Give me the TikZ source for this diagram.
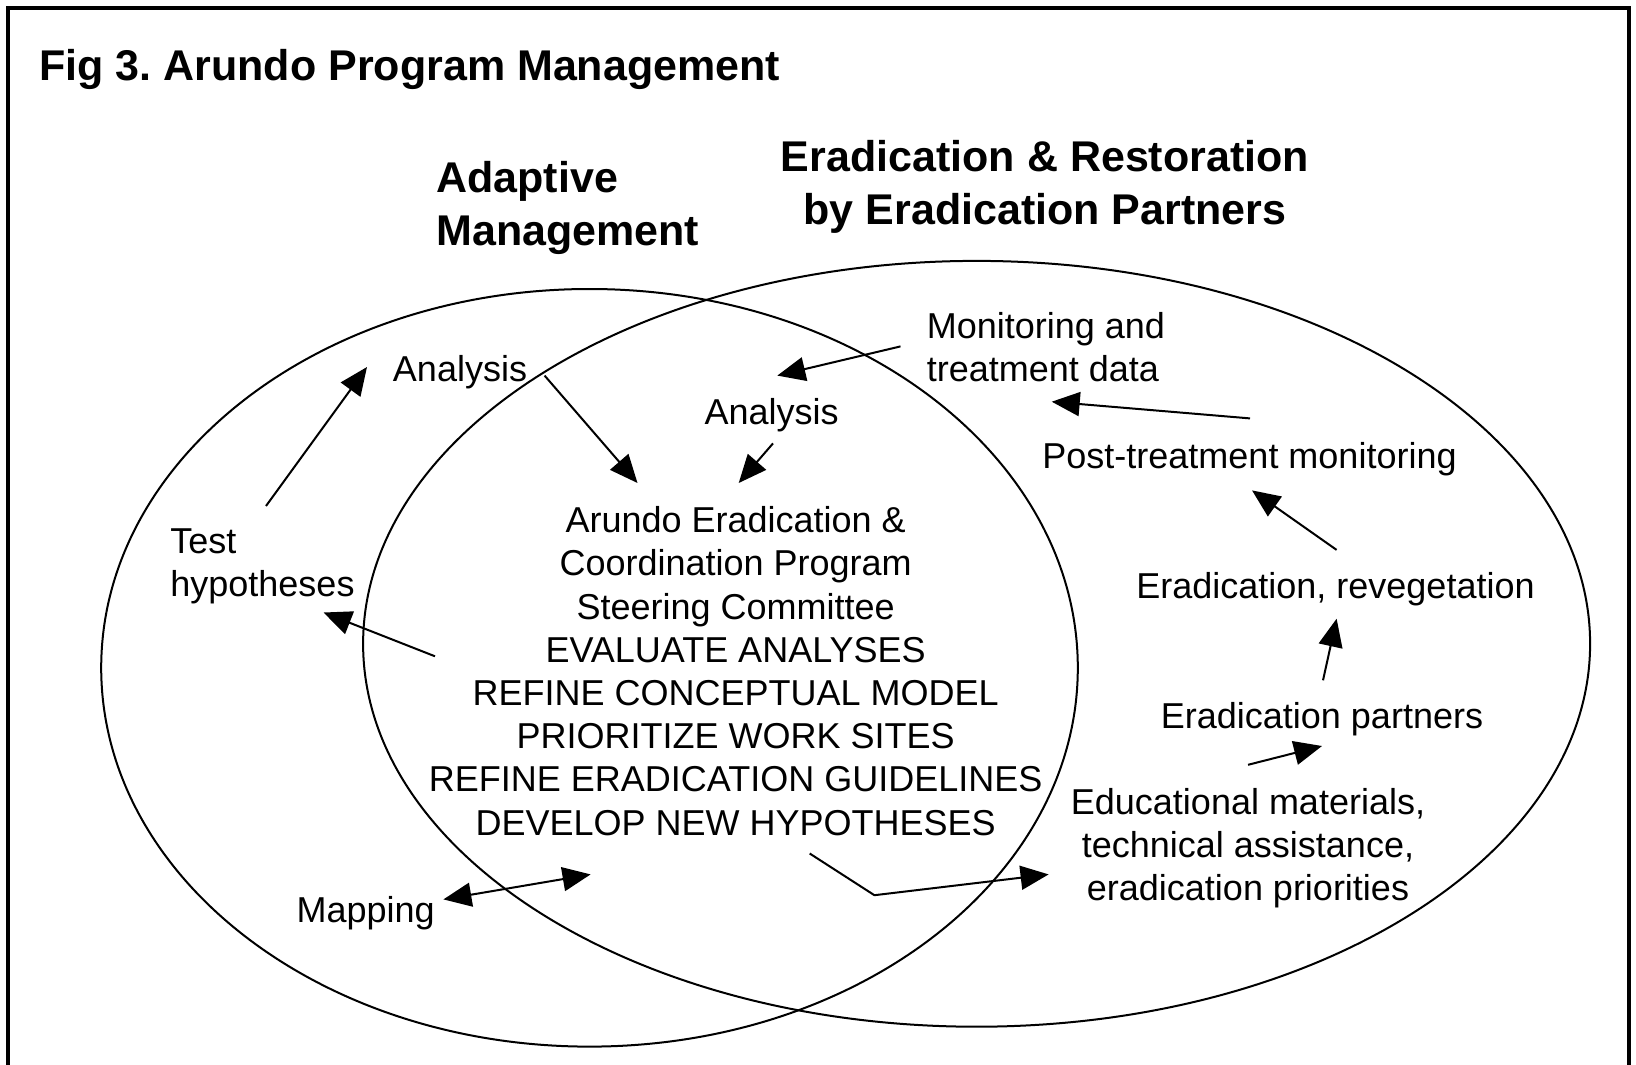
\documentclass[tikz,border=0pt]{standalone}
\usepackage{fontspec}
\setmainfont{Liberation Sans}
\usetikzlibrary{arrows.meta}
\frenchspacing
\begin{document}
\begin{tikzpicture}[x=0.5pt,y=-0.5pt,
  lbl/.style={font=\fontsize{18}{21.6}\selectfont, inner sep=0pt, align=center},
  head/.style={font=\fontsize{21.5}{26.5}\selectfont\bfseries, inner sep=0pt},
  conn/.style={line width=1pt, -{Triangle[length=14pt,width=12pt]}},
  dconn/.style={line width=1pt, {Triangle[length=14pt,width=12pt]}-{Triangle[length=14pt,width=12pt]}},
  ring/.style={line width=1pt}]
\useasboundingbox (0,0) rectangle (1636,1064);
\clip (0,0) rectangle (1636,1064);
\fill[white] (0,0) rectangle (1636,1064);
% frame
\draw[line width=2pt] (8.3,1100) -- (8.3,8.3) -- (1628.8,8.3) -- (1628.8,1100);
% ellipses
\draw[ring] (589.5,667.8) ellipse [x radius=488.3, y radius=378.8];
\draw[ring] (976.6,643.8) ellipse [x radius=613.5, y radius=382.9];
% headings
\node[head, anchor=base west] (title) at (39,81) {Fig 3. Arundo Program Management};
\node[head, anchor=west, align=left] (adapt) at (436,208) {Adaptive\\Management};
\node[head, align=center] (erad) at (1045,187) {Eradication \& Restoration\\by Eradication Partners};
% text nodes
\node[lbl, anchor=base] (anL) at (460,381.5) {Analysis};
\node[lbl, anchor=base] (anM) at (771.6,424.5) {Analysis};
\node[lbl, anchor=west, align=left] (mon) at (926.5,347.5) {Monitoring and\\treatment data};
\node[lbl, anchor=base] (post) at (1249.5,468.5) {Post-treatment monitoring};
\node[lbl, anchor=base] (reveg) at (1335.5,598) {Eradication, revegetation};
\node[lbl, anchor=base] (partners) at (1322,728.5) {Eradication partners};
\node[lbl] (edu) at (1248,848) {Educational materials,\\technical assistance,\\eradication priorities};
\node[lbl, anchor=west, align=left] (test) at (170,566.5) {Test\\hypotheses};
\node[lbl, anchor=base] (mapping) at (365.7,922.3) {Mapping};
\node[lbl] (central) at (735.6,671) {Arundo Eradication \&\\Coordination Program\\Steering Committee\\EVALUATE ANALYSES\\REFINE CONCEPTUAL MODEL\\PRIORITIZE WORK SITES\\REFINE ERADICATION GUIDELINES\\DEVELOP NEW HYPOTHESES};
% connector end points
\coordinate (c1s) at (266,506);   \coordinate (c1e) at (367,367);
\coordinate (c2s) at (544.6,375.6); \coordinate (c2e) at (637.5,483);
\coordinate (c3s) at (773,443.4); \coordinate (c3e) at (738.7,483);
\coordinate (c4s) at (900.5,346.4); \coordinate (c4e) at (777.3,375.6);
\coordinate (c5s) at (1250,418.4); \coordinate (c5e) at (1051.7,401.7);
\coordinate (c6s) at (1336.6,549.9); \coordinate (c6e) at (1252,490.4);
\coordinate (c7s) at (1323,680.3); \coordinate (c7e) at (1336.6,618.7);
\coordinate (c8s) at (1248,764.8); \coordinate (c8e) at (1322,746);
\coordinate (c9s) at (435,656.3); \coordinate (c9e) at (323.5,612.5);
\coordinate (c10s) at (443.4,899.4); \coordinate (c10e) at (590.6,874.4);
\coordinate (c11s) at (809.7,853.5); \coordinate (c11m) at (874.4,895.2); \coordinate (c11e) at (1048.6,874.4);
% connectors
\draw[conn] (c1s) -- (c1e);
\draw[conn] (c2s) -- (c2e);
\draw[conn] (c3s) -- (c3e);
\draw[conn] (c4s) -- (c4e);
\draw[conn] (c5s) -- (c5e);
\draw[conn] (c6s) -- (c6e);
\draw[conn] (c7s) -- (c7e);
\draw[conn] (c8s) -- (c8e);
\draw[conn] (c9s) -- (c9e);
\draw[dconn] (c10s) -- (c10e);
\draw[conn] (c11s) -- (c11m) -- (c11e);
\end{tikzpicture}
\end{document}
